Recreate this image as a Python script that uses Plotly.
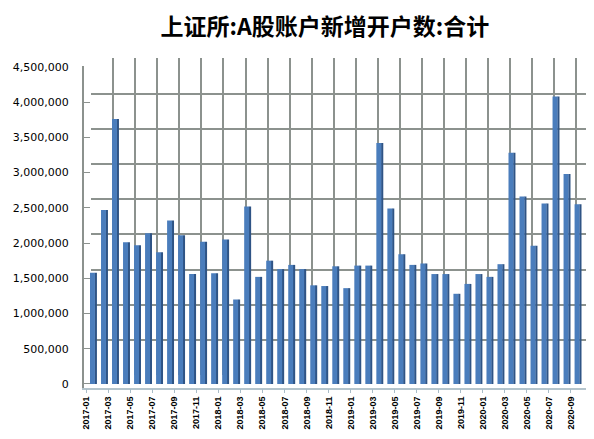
import plotly.graph_objects as go

# monthly data, 2017-01 .. 2020-09
months = [f"{y}-{m:02d}" for y in range(2017, 2021) for m in range(1, 13)][:45]
new_accounts = [
    1580000, 2470000, 3760000, 2010000, 1970000, 2140000, 1870000, 2320000, 2110000,
    1560000, 2020000, 1570000, 2050000, 1200000, 2520000, 1520000, 1750000, 1630000,
    1690000, 1630000, 1400000, 1390000, 1670000, 1360000, 1680000, 1680000, 3420000,
    2490000, 1840000, 1690000, 1710000, 1560000, 1560000, 1280000, 1420000, 1560000,
    1520000, 1700000, 3280000, 2660000, 1960000, 2560000, 4080000, 2980000, 2550000,
]
label_months = months[::2]
y_ticks = list(range(0, 4500001, 500000))

# page puts the plot 8px in from the top-left corner
OFF = 8
W, H = 594 - OFF, 439 - OFF
GRID = "#8c928e"


def px_x(p):
    return (p - OFF) / W


def px_y(p):
    return 1 - (p - OFF) / H


fig = go.Figure()

# back wall (grid only)
fig.add_trace(go.Scatter(x=months, y=[None] * len(months), xaxis="x", yaxis="y",
                         showlegend=False, hoverinfo="skip"))

# bar side faces (darker) then front faces
fig.add_trace(go.Bar(x=months, y=new_accounts, xaxis="x2", yaxis="y2",
                     width=0.2, offset=0.22, marker_color="#2f5485",
                     marker_line_width=0, showlegend=False))
fig.add_trace(go.Bar(x=months, y=new_accounts, xaxis="x2", yaxis="y2",
                     width=0.45, offset=-0.21, marker_color="#4a7dbc",
                     marker_line_width=0, showlegend=False))

# dummy for shifted label axis
fig.add_trace(go.Scatter(x=months, y=[None] * len(months), xaxis="x3", yaxis="y2",
                         showlegend=False, hoverinfo="skip"))

fig.update_layout(
    width=W, height=H,
    margin=dict(l=0, r=0, t=0, b=0),
    paper_bgcolor="white",
    plot_bgcolor="rgba(0,0,0,0)",
    barmode="overlay",
    font=dict(family="DejaVu Sans", color="black"),
    title=dict(text="上证所:A股账户新增开户数:合计",
               font=dict(family="Noto Sans CJK SC", size=23, color="black", weight="bold"),
               x=px_x(324), xanchor="center", xref="paper",
               y=px_y(27), yanchor="middle", yref="container"),
    # back wall
    xaxis=dict(type="category", categoryarray=months, domain=[px_x(89), px_x(586)],
               range=[-0.054, 44.92], anchor="y",
               tickvals=label_months, showticklabels=False, ticks="",
               showgrid=True, gridcolor=GRID, gridwidth=2, showline=False, zeroline=False),
    yaxis=dict(domain=[px_y(377), px_y(54)], range=[-1000, 4505000], anchor="x",
               tickvals=y_ticks, showticklabels=False, ticks="",
               showgrid=True, gridcolor=GRID, gridwidth=2, zeroline=False, showline=False),
    # bars / front axes
    xaxis2=dict(type="category", categoryarray=months, domain=[px_x(82), px_x(586)],
                range=[-0.778, 44.83], anchor="y2",
                showticklabels=False, ticks="", showgrid=False,
                showline=True, linecolor="#b4c4cc", linewidth=1.5, zeroline=False),
    yaxis2=dict(domain=[px_y(390), px_y(62)], range=[-55700, 4512500], anchor="x2",
                tickvals=y_ticks, tickformat=",", tickfont=dict(size=11, color="black"),
                ticks="inside", ticklen=7, tickcolor=GRID, ticklabelstandoff=11,
                showgrid=False, zeroline=False,
                showline=True, linecolor=GRID, linewidth=1.5),
    xaxis3=dict(type="category", categoryarray=months, overlaying="x2", anchor="y2",
                side="bottom", range=[-0.238, 45.37],
                tickvals=label_months, ticktext=label_months, tickangle=-90,
                tickfont=dict(family="Liberation Sans", size=9, color="black", weight="bold"),
                ticks="outside", ticklen=4, tickcolor="#a8bcc8",
                showgrid=False, showline=False, zeroline=False),
)

fig.write_html("out.html")
